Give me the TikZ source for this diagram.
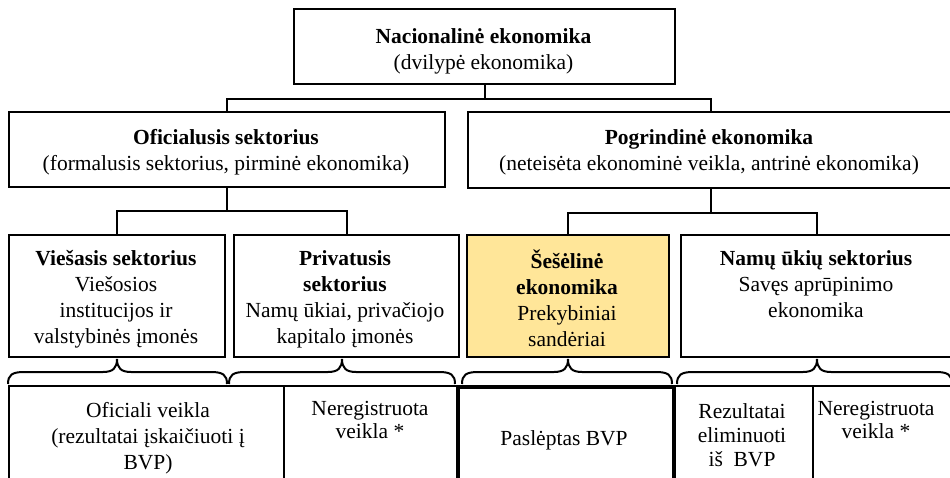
\documentclass[tikz,border=0pt]{standalone}
\usepackage{fontspec}
\setmainfont{Liberation Serif}
\definecolor{shadowfill}{HTML}{FFE699}
% upward curly brace: left end, right end, tip position
\newcommand\upbrace[3]{%
  \draw[conn] (#1,384) .. controls (#1,375) and ({#1+4},372) .. ({#1+16},372)
    -- ({#3-14},372) .. controls ({#3-4},372) and (#3,368) .. (#3,359)
    .. controls (#3,368) and ({#3+4},372) .. ({#3+14},372)
    -- ({#2-16},372) .. controls ({#2-4},372) and (#2,375) .. (#2,384);}
\begin{document}
\begin{tikzpicture}[x=1pt,y=-1pt,
  box/.style={draw, line width=2pt, inner sep=0pt, anchor=north west},
  thickbox/.style={box, line width=4pt},
  conn/.style={line width=2pt},
  txt/.style={align=center, inner sep=0pt, font=\fontsize{21.5}{26}\selectfont},
  tighttxt/.style={txt, font=\fontsize{21.5}{23}\selectfont}]
\useasboundingbox (0,0) rectangle (950,478);

% level 0 and 1
\node[box, minimum width=381pt, minimum height=75pt] (nat) at (293,8) {};
\node[box, minimum width=436pt, minimum height=75pt] (ofi) at (8,111) {};
\node[box, minimum width=485pt, minimum height=76pt] (pog) at (467,111) {};

% level 2
\node[box, minimum width=216pt, minimum height=122pt] (vie) at (8,234) {};
\node[box, minimum width=225pt, minimum height=122pt] (pri) at (233,234) {};
\node[box, fill=shadowfill, minimum width=202pt, minimum height=122pt] (ses) at (466,234) {};
\node[box, minimum width=272pt, minimum height=122pt] (nam) at (680,234) {};

% bottom row
\node[box, minimum width=275pt, minimum height=110pt] (b1) at (8,385) {};
\node[box, minimum width=173pt, minimum height=110pt] (b2) at (283,385) {};
\node[box, minimum width=140pt, minimum height=110pt] (b4) at (672,385) {};
\node[box, minimum width=140pt, minimum height=110pt] (b5) at (812,385) {};
\node[thickbox, minimum width=216pt, minimum height=110pt] (b3) at (456,385) {};

% connectors
\draw[conn] (nat.south) -- ++(0,14) -| (ofi.north);
\draw[conn] (nat.south) -- ++(0,14) -| (pog.north);
\draw[conn] (ofi.south) -- ++(0,23) -| (vie.north);
\draw[conn] (ofi.south) -- ++(0,23) -| (pri.north);
\draw[conn] (pog.south) -- ++(0,24) -| (ses.north);
\draw[conn] (pog.south) -- ++(0,24) -| (nam.north);

% braces
\upbrace{8}{227}{117}
\upbrace{229}{455}{342}
\upbrace{462}{672}{568}
\upbrace{677}{952}{817}

% texts
\node[txt] (tnat) at (483.5,51) {\textbf{Nacionalinė ekonomika}\\(dvilypė ekonomika)};
\node[txt] (tofi) at (226,152) {\textbf{Oficialusis sektorius}\\(formalusis sektorius, pirminė ekonomika)};
\node[txt] (tpog) at (709,152) {\textbf{Pogrindinė ekonomika}\\(neteisėta ekonominė veikla, antrinė ekonomika)};

\node[txt, anchor=north] (tvie) at (116,250) {\textbf{Viešasis sektorius}\\Viešosios\\institucijos ir\\valstybinės įmonės};
\node[txt, anchor=north] (tpri) at (345,250) {\textbf{Privatusis}\\\textbf{sektorius}\\Namų ūkiai, privačiojo\\kapitalo įmonės};
\node[txt, anchor=north] (tses) at (567,250) {\textbf{Šešėlinė}\\\textbf{ekonomika}\\Prekybiniai\\sandėriai};
\node[txt, anchor=north] (tnam) at (816,250) {\textbf{Namų ūkių sektorius}\\Savęs aprūpinimo\\ekonomika};

\node[txt] (tb1) at (148,438) {Oficiali veikla\\(rezultatai įskaičiuoti į\\BVP)};
\node[tighttxt] (tb2) at (370,420) {Neregistruota\\veikla *};
\node[txt] (tb3) at (564,440) {Paslėptas BVP};
\node[tighttxt, font=\fontsize{21.5}{24}\selectfont] (tb4) at (742,435) {Rezultatai\\eliminuoti\\iš\ \ BVP};
\node[tighttxt] (tb5) at (876,420) {Neregistruota\\veikla *};
\end{tikzpicture}
\end{document}
